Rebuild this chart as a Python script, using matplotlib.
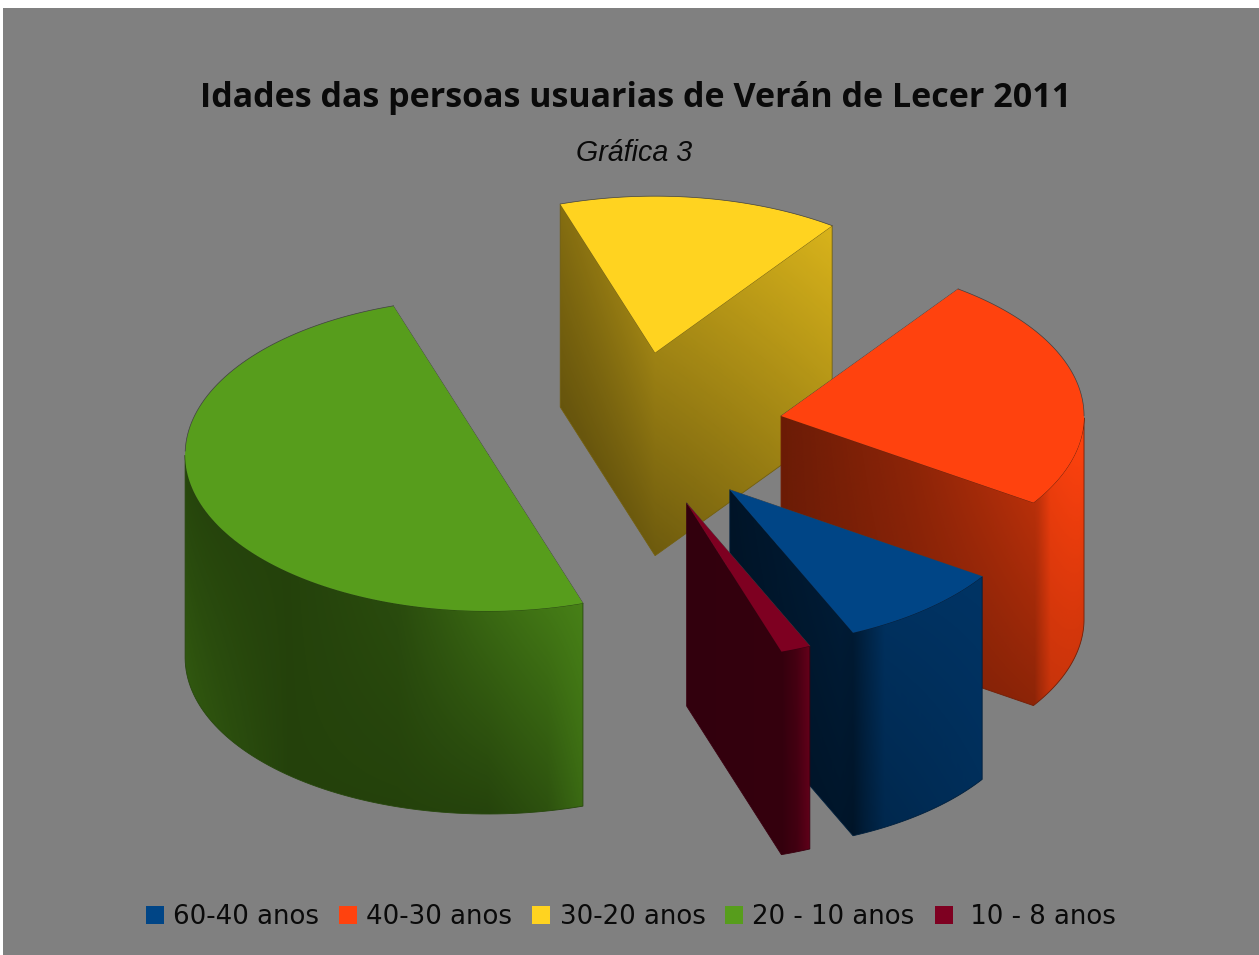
import numpy as np
import matplotlib
matplotlib.use("Agg")
import matplotlib.pyplot as plt
from matplotlib.colors import LinearSegmentedColormap
from matplotlib.patches import Patch, Polygon, Rectangle

labels = ["60-40 anos", "40-30 anos", "30-20 anos", "20 - 10 anos", " 10 - 8 anos"]
values = [9.0, 24.4, 15.0, 50.0, 1.6]
colors = ["#004586", "#ff420e", "#ffd320", "#579d1c", "#7e0021"]

# shading of the side walls: x offset from the slice tip, brightness at top and bottom
shade = [
    ([0, 110, 123, 135, 155, 253], [.30, .40, .38, .50, .70, .75], [.28, .32, .30, .42, .58, .68]),
    ([0, 130, 254, 258, 270, 303], [.42, .55, .72, .75, .92, 1.0], [.42, .50, .55, .62, .78, .82]),
    ([-96, 0, 178], [.52, .62, .85], [.40, .43, .68]),
    ([-303, -200, -90, 0, 60, 96], [.44, .42, .48, .66, .76, .82], [.56, .42, .42, .43, .52, .68]),
    ([0, 96, 110, 123], [.40, .42, .55, .80], [.40, .42, .52, .75]),
]

W, H = 1259, 955
cx, cy = 632, 430
rx, ry = 303, 156.5
depth = 203
explode = 0.5
start = -66.0

fig = plt.figure(figsize=(W / 100, H / 100), dpi=100, facecolor="white")
ax = fig.add_axes([0, 0, 1, 1])
ax.add_patch(Rectangle((3.5, 8), W, H, fc="#808080", ec="none", zorder=0))


def draw_walls(px, py, tip_x, knots, cmap, z):
    # one image for all walls of a slice, clipped to their outline
    xs = np.arange(px.min(), px.max() + 1.0)
    ys = np.arange(py.min(), py.max() + depth + 1.0)
    top_y = np.interp(xs, px, py)
    top = np.interp(xs - tip_x, knots[0], knots[1])
    bot = np.interp(xs - tip_x, knots[0], knots[2])
    v = np.clip((ys[:, None] - top_y[None, :]) / depth, 0, 1)
    img = ax.imshow(top + (bot - top) * v, cmap=cmap, vmin=0, vmax=1, aspect="auto",
                    origin="upper", interpolation="bilinear", zorder=z,
                    extent=(xs[0], xs[-1], ys[-1], ys[0]))
    edge = np.column_stack([np.r_[px, px[::-1]], np.r_[py, (py + depth)[::-1]]])
    wall = Polygon(edge, closed=True, fc="none", ec=cmap(0.45), lw=0.6, zorder=z)
    ax.add_patch(wall)
    img.set_clip_path(wall)


fracs = np.cumsum([0] + values) / sum(values) * 360 + start
order = []
for i in range(len(values)):
    mid = np.radians((fracs[i] + fracs[i + 1]) / 2)
    tip = (cx + explode * rx * np.cos(mid), cy - explode * ry * np.sin(mid))
    order.append((tip[1], i, tip))
order.sort()

for z, (_, i, tip) in enumerate(order):
    z = z * 3 + 2
    t = np.radians(np.linspace(fracs[i], fracs[i + 1], 121))
    arc_x = tip[0] + rx * np.cos(t)
    arc_y = tip[1] - ry * np.sin(t)
    cmap = LinearSegmentedColormap.from_list("s", ["black", colors[i]])

    # front boundary of the top face, left to right
    front = np.sin(t) < 0
    px = list(arc_x[front])
    py = list(arc_y[front])
    for ex, ey, sign in ((arc_x[0], arc_y[0], 1), (arc_x[-1], arc_y[-1], -1)):
        n = 30
        if sign * (ex - tip[0]) < 0:
            # hidden cut, only its edge line shows
            ax.plot([tip[0], ex], [tip[1], ey], color="#404040", lw=0.5, zorder=z + 1)
            continue
        px += list(np.linspace(tip[0], ex, n))
        py += list(np.linspace(tip[1], ey, n))
    px, idx = np.unique(px, return_index=True)
    py = np.array(py)[idx]
    draw_walls(px, py, tip[0], shade[i], cmap, z)

    outline = np.column_stack([np.r_[tip[0], arc_x], np.r_[tip[1], arc_y]])
    ax.add_patch(Polygon(outline, closed=True, fc=colors[i], ec="none", zorder=z + 1))
    ax.plot(arc_x[~front], arc_y[~front], color="#404040", lw=0.5, zorder=z + 1)

ax.set_xlim(0, W)
ax.set_ylim(H, 0)
ax.axis("off")

ax.text(636, 98, "Idades das persoas usuarias de Verán de Lecer 2011", ha="center", va="center",
        fontsize=24.5, fontweight="bold", color="#0a0a0a", family="Open Sans")
ax.text(634, 153, "Gráfica 3", ha="center", va="center", fontsize=20.6, style="italic",
        color="#0a0a0a", family="Liberation Sans")

handles = [Patch(fc=c, ec="none") for c in colors]
ax.legend(handles, labels, loc="center", bbox_to_anchor=(631, 917), bbox_transform=ax.transData,
          ncol=5, frameon=False, fontsize=18.7, handlelength=0.69, handleheight=0.69,
          handletextpad=0.35, columnspacing=0.77, borderaxespad=0, borderpad=0,
          labelcolor="#0a0a0a")

fig.savefig("out.png", dpi=100)
